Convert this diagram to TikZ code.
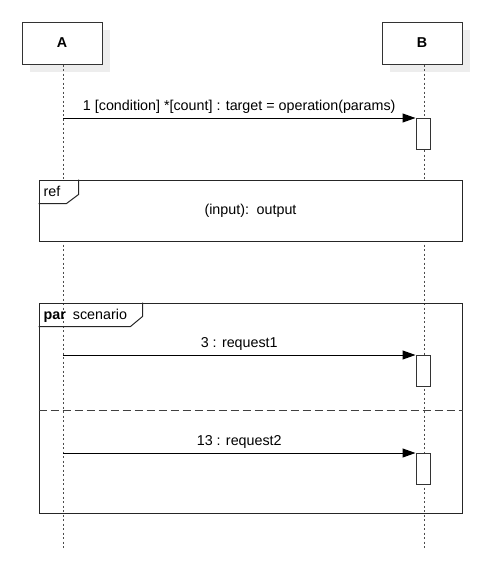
\documentclass[tikz,border=0pt]{standalone}
\usepackage{fontspec}
\setmainfont{Liberation Sans}
\usetikzlibrary{positioning, arrows.meta, shadows, calc}

\begin{document}
\begin{tikzpicture}[x=1pt, y=-1pt, font=\fontsize{14.3}{17}\selectfont]
        \tikzset{actor/.style={draw=black!80, line width=1pt, fill=white, minimum width=80pt, minimum height=42pt, font=\fontsize{14.3}{17}\selectfont\bfseries,
                        drop shadow={shadow xshift=8pt, shadow yshift=-8pt, fill=black!7, opacity=1}}}
        \tikzset{lifeline/.style={draw=black!70, line width=1pt, dash pattern=on 2pt off 2.5pt}}
        \tikzset{activation/.style={draw=black!80, line width=1pt, fill=white, minimum width=14pt, minimum height=31pt, inner sep=0pt}}
        \tikzset{msg/.style={line width=1pt, -{Triangle[length=13pt, width=9pt]}}}
        \tikzset{frame/.style={draw=black!85, line width=1pt, minimum width=423pt, inner sep=0pt}}
        \useasboundingbox (0,0) rectangle (492,573);

        % actors and lifelines
        \node[actor] (a) at (62,43) {A};
        \node[actor] (b) at (422,43) {B};
        \coordinate (a_end) at (63,550);
        \coordinate (b_end) at (424,550);
        \draw[lifeline] (a.south -| a_end) -- (a_end);
        \draw[lifeline] (b.south -| b_end) -- (b_end);

        % first message
        \node[activation, anchor=north] (act1) at (423,118) {};
        \draw[msg] (a_end |- act1.north) -- (act1.north west)
                node[midway, above=1pt] (m1) {1 [condition] *[count] : target = operation(params)};

        % ref frame
        \node[frame, fill=white, minimum height=61pt] (ref) at (250.5,210.5) {\raisebox{-1.5pt}{(input):\, output}};
        \draw[line width=1pt, black!85] (ref.north west) ++(40,0) -- ++(0,15) -- ++(-12,9) -- ++(-28,0);
        \node[right, inner sep=0pt] (ref_lbl) at ($(ref.north west)+(5,12)$) {ref};

        % par frame
        \node[frame, minimum height=210pt] (par) at (250.5,408) {};
        \draw[line width=1pt, black!85] (par.north west) ++(104,0) -- ++(0,14) -- ++(-12,10) -- ++(-92,0);
        \node[right, inner sep=0pt] (par_lbl) at ($(par.north west)+(5,13)$) {\textbf{par}\hspace{3pt} scenario};
        \draw[line width=1pt, black!75, dash pattern=on 8pt off 4pt] (par.west |- 0,410) coordinate (sep_w) -- (sep_w -| par.east);

        % messages in par
        \node[activation, anchor=north] (act2) at (423,355) {};
        \draw[msg] (a_end |- act2.north) -- (act2.north west)
                node[midway, above=1pt] (m2) {3 : request1};
        \node[activation, anchor=north] (act3) at (423,453) {};
        \draw[msg] (a_end |- act3.north) -- (act3.north west)
                node[midway, above=1pt] (m3) {13 : request2};
\end{tikzpicture}
\end{document}
